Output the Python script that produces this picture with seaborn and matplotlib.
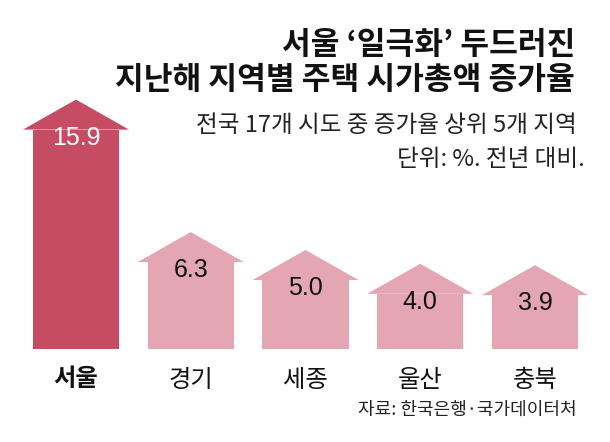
import seaborn as sns
from matplotlib import pyplot as plt
from matplotlib import font_manager
import pandas as pd

regions = ["서울", "경기", "세종", "울산", "충북"]
growth = [15.9, 6.3, 5.0, 4.0, 3.9]
bar_colors = ["#c64c64", "#e3a6b2", "#e3a6b2", "#e3a6b2", "#e3a6b2"]
label_colors = ["white", "#111111", "#111111", "#111111", "#111111"]

title_lines = ["서울 ‘일극화’ 두드러진", "지난해 지역별 주택 시가총액 증가율"]
sub_lines = ["전국 17개 시도 중 증가율 상위 5개 지역", "단위: %. 전년 대비."]
source = "자료: 한국은행·국가데이터처"

KR = ["Noto Sans CJK KR", "DejaVu Sans"]

installed = {f.name for f in font_manager.fontManager.ttflist}
if "Liberation Sans Narrow" in installed:
    NUM, num_size = ["Liberation Sans Narrow", "Liberation Sans"], 22
else:
    NUM, num_size = ["Liberation Sans", "DejaVu Sans"], 18

sns.set_theme(style="white")
plt.rcParams["font.family"] = KR

df = pd.DataFrame({"region": regions, "growth": growth})

fig = plt.figure(figsize=(6.1, 4.42), dpi=100)
W, H = 610, 442
base_px = 349
px_per_unit = 13.8
ax = fig.add_axes([0, (H - base_px) / H, 1, base_px / H])

sns.barplot(data=df, x="region", y="growth", hue="region", palette=bar_colors,
            width=0.75, legend=False, ax=ax, saturation=1, linewidth=0)

ax.set_xlim(-76 / 114.75, (W - 76) / 114.75)
ax.set_ylim(0, base_px / px_per_unit)

# roof on top of each bar
roof_h = 30 / px_per_unit
wing = 10 / 114.75
for patch, col, lc, v in zip(ax.patches, bar_colors, label_colors, growth):
    x0 = patch.get_x()
    w = patch.get_width()
    top = patch.get_height()
    xs = [x0 - wing, x0 + w / 2, x0 + w + wing]
    ys = [top, top + roof_h, top]
    ax.fill(xs, ys, color=col, linewidth=0)
    ax.text(x0 + w / 2, top - 0.6, f"{v:.1f}", ha="center", va="center",
            fontsize=num_size, color=lc, family=NUM)

ax.set_xlabel("")
ax.set_ylabel("")
ax.set_yticks([])
sns.despine(ax=ax, left=True, bottom=True)
ax.tick_params(axis="x", length=0, pad=13, labelsize=17.5)
for i, lab in enumerate(ax.get_xticklabels()):
    lab.set_color("#111111")
    if i == 0:
        lab.set_fontweight("bold")

fig.text(575 / W, 1 - 45 / H, title_lines[0], ha="right", va="center",
         fontsize=22.5, fontweight="bold", color="#111111")
fig.text(575 / W, 1 - 80 / H, title_lines[1], ha="right", va="center",
         fontsize=22.5, fontweight="bold", color="#111111")
fig.text(577 / W, 1 - 125 / H, sub_lines[0], ha="right", va="center",
         fontsize=17, color="#222222", family=KR)
fig.text(585 / W, 1 - 160 / H, sub_lines[1], ha="right", va="center",
         fontsize=17, color="#222222", family=KR)
fig.text(577 / W, 1 - 410 / H, source, ha="right", va="center",
         fontsize=13, color="#222222")

fig.savefig("out.png", dpi=100)
